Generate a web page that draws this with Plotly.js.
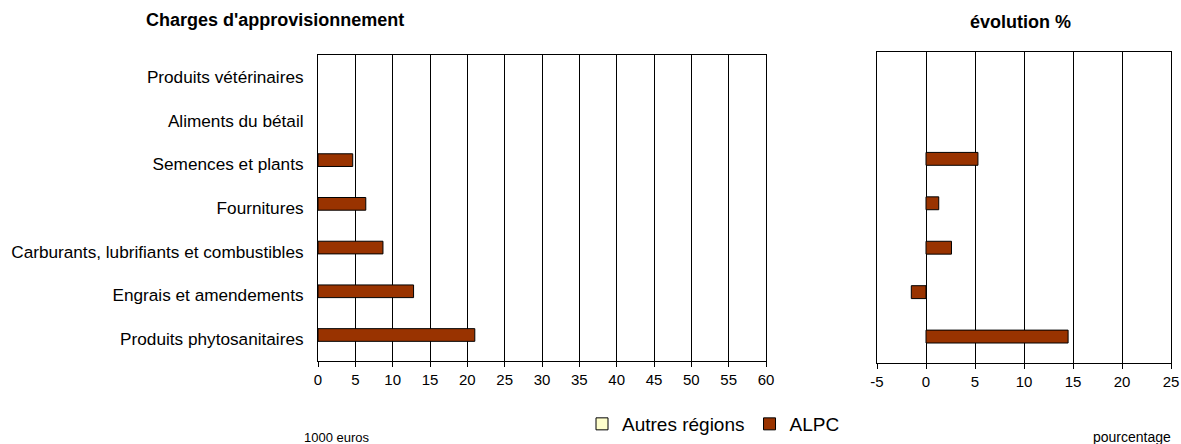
<!DOCTYPE html>
<html><head><meta charset="utf-8">
<script src="https://cdn.plot.ly/plotly-3.0.1.min.js"></script>
<style>html,body{margin:0;padding:0;background:#fff}#chart{width:1181px;height:444px}</style>
</head><body><div id="chart"></div>
<script>
const categories = ["Produits vétérinaires","Aliments du bétail","Semences et plants","Fournitures","Carburants, lubrifiants et combustibles","Engrais et amendements","Produits phytosanitaires"];
const alpcCharges = [null, null, 4.65, 6.4, 8.7, 12.8, 21.0];
const autresCharges = [null, null, null, null, null, null, null];
const alpcEvolution = [null, null, 5.3, 1.3, 2.6, -1.5, 14.5];
const autresEvolution = [null, null, null, null, null, null, null];
const xTicks1 = [0,5,10,15,20,25,30,35,40,45,50,55,60];
const xTicks2 = [-5,0,5,10,15,20,25];
const xTickText2 = ["-5","0","5","10","15","20","25"];

const font = "Liberation Sans, Arial, sans-serif";
const barLine = {color:"#000", width:1};
const bw = 0.29, boff = -0.24;
const traces = [
  {type:"bar", orientation:"h", name:"Autres régions", y:categories, x:autresCharges, xaxis:"x", yaxis:"y",
   marker:{color:"#FFFFCC", line:barLine}, width:bw, offset:boff+bw, legendgroup:"a"},
  {type:"bar", orientation:"h", name:"ALPC", y:categories, x:alpcCharges, xaxis:"x", yaxis:"y",
   marker:{color:"#993300", line:barLine}, width:bw, offset:boff, legendgroup:"b"},
  {type:"bar", orientation:"h", name:"Autres régions", y:categories, x:autresEvolution, xaxis:"x2", yaxis:"y2",
   marker:{color:"#FFFFCC", line:barLine}, width:bw, offset:boff+bw, legendgroup:"a", showlegend:false},
  {type:"bar", orientation:"h", name:"ALPC", y:categories, x:alpcEvolution, xaxis:"x2", yaxis:"y2",
   marker:{color:"#993300", line:barLine}, width:bw, offset:boff, legendgroup:"b", showlegend:false}
];
const axX = {showline:true, linecolor:"#000", linewidth:1, mirror:true, showgrid:true, gridcolor:"#000", gridwidth:1,
  zeroline:false, ticks:"outside", ticklen:5, tickcolor:"#000", tickfont:{family:font, size:15, color:"#000"}, fixedrange:true};
const axY = {showline:true, linecolor:"#000", linewidth:1, mirror:true, showgrid:false, zeroline:false,
  autorange:"reversed", ticks:"", fixedrange:true, type:"category"};
const layout = {
  width:1181, height:444, margin:{l:0,r:0,t:0,b:0}, paper_bgcolor:"#fff", plot_bgcolor:"#fff",
  barmode:"overlay", showlegend:true,
  font:{family:font, color:"#000"},
  xaxis:Object.assign({}, axX, {domain:[318/1181, 766/1181], range:[0,60], tickvals:xTicks1, anchor:"y"}),
  yaxis:Object.assign({}, axY, {domain:[1-361/444, 1-55/444], tickfont:{family:font, size:17.2, color:"#000"}, ticklabelstandoff:10, anchor:"x"}),
  xaxis2:Object.assign({}, axX, {domain:[877/1181, 1171/1181], range:[-5,25], tickvals:xTicks2, ticktext:xTickText2, anchor:"y2"}),
  yaxis2:Object.assign({}, axY, {domain:[1-363/444, 1-52/444], showticklabels:false, anchor:"x2"}),
  legend:{orientation:"h", x:582/1181, xanchor:"left", y:1-424/444, yanchor:"middle",
    font:{family:font, size:19, color:"#000"}, itemwidth:30, tracegroupgap:0, bgcolor:"rgba(0,0,0,0)"},
  annotations:[
    {text:"<b>Charges d'approvisionnement</b>", xref:"paper", yref:"paper", x:275/1181, y:1-20/444, xanchor:"center", yanchor:"middle", showarrow:false, font:{family:font, size:18, color:"#000"}},
    {text:"<b>évolution %</b>", xref:"paper", yref:"paper", x:1020/1181, y:1-22/444, xanchor:"center", yanchor:"middle", showarrow:false, font:{family:font, size:18, color:"#000"}},
    {text:"1000 euros", xref:"paper", yref:"paper", x:337/1181, y:1-437/444, xanchor:"center", yanchor:"middle", showarrow:false, font:{family:font, size:13, color:"#000"}},
    {text:"pourcentage", xref:"paper", yref:"paper", x:1132/1181, y:1-437/444, xanchor:"center", yanchor:"middle", showarrow:false, font:{family:font, size:14, color:"#000"}}
  ]
};
Plotly.newPlot("chart", traces, layout, {displayModeBar:false, staticPlot:true});
</script></body></html>
